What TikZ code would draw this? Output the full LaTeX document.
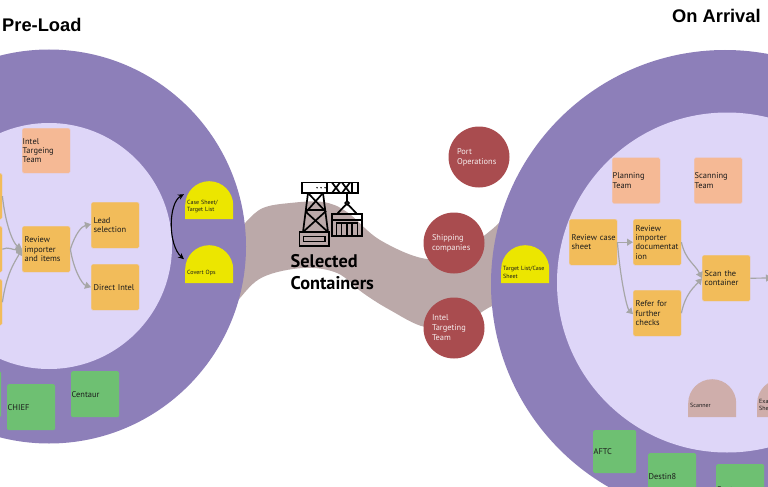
\documentclass[tikz,border=0pt]{standalone}
\usepackage{fontspec}
\setmainfont{PT Sans}
\newfontfamily\titlefont{Liberation Sans}
\usetikzlibrary{arrows.meta}
\definecolor{outerc}{HTML}{8D7FB9}
\definecolor{innerc}{HTML}{DED6F8}
\definecolor{taskc}{HTML}{F2BC5A}
\definecolor{teamc}{HTML}{F5B995}
\definecolor{toolc}{HTML}{6EC072}
\definecolor{yelc}{HTML}{ECE600}
\definecolor{scanc}{HTML}{CFAEAB}
\definecolor{redc}{HTML}{A94C4F}
\definecolor{ribc}{HTML}{BBA9A9}
\definecolor{arrc}{HTML}{A6A6A6}
\definecolor{inkc}{HTML}{1C1C1C}
\tikzset{
  sqbox/.style={anchor=north west,minimum width=48pt,minimum height=46pt,text width=43pt,
    inner xsep=2.5pt,inner ysep=0pt,align=left,rounded corners=1.5pt,font=\fontsize{8.4}{9.4}\selectfont,text=inkc},
  taskbox/.style={sqbox,fill=taskc,draw=innerc!70!taskc,line width=.4pt},
  teambox/.style={sqbox,fill=teamc,draw=innerc!70!teamc,line width=.4pt,inner xsep=.5pt,text width=47pt},
  toolbox/.style={sqbox,fill=toolc,inner xsep=.5pt,text width=47pt},
  dome/.style={anchor=north west,minimum width=48pt,minimum height=38pt,text width=44pt,inner xsep=2pt,inner ysep=0pt,
    align=left,font=\fontsize{6}{7.4}\selectfont,text=inkc,
    path picture={\fill[#1] (path picture bounding box.south west) -- ++(0,14pt) arc[start angle=180,end angle=0,radius=24pt] -- (path picture bounding box.south east) -- cycle;}},
  disc/.style={circle,fill=redc,minimum size=61pt,inner sep=0pt,text width=44pt,align=left,
    font=\fontsize{8.4}{10}\selectfont,text=white!90!redc},
  flow/.style={draw=arrc,line width=1.2pt,-{Triangle[length=6pt,width=7pt]}},
  link/.style={draw=black,line width=1.1pt,{Stealth[length=6pt,width=5.5pt]}-{Stealth[length=6pt,width=5.5pt]}},
  icon/.style={draw=black,line width=1.7pt,line join=miter}
}
\begin{document}
\begin{tikzpicture}[x=1pt,y=-1pt]
\useasboundingbox (0,0) rectangle (768,487);
\clip (0,0) rectangle (768,487);
% ribbon
\fill[ribc] plot[smooth,tension=.6] coordinates {(232,240) (246,222) (263,208) (290,203) (323,202) (347,212) (380,240) (427,259) (465,250) (485,235) (500,222) (520,200)}
  -- plot[smooth,tension=.6] coordinates {(520,295) (490,307) (460,325) (425,327) (390,310) (363,293) (337,273) (303,268) (263,277) (240,298) (225,320)} -- cycle;
% rings
\node[circle,fill=outerc,minimum size=394pt,inner sep=0pt] (lo) at (49,246.5) {};
\node[circle,fill=innerc,minimum size=246pt,inner sep=0pt] (li) at (49,246) {};
\node[circle,fill=outerc,minimum size=468pt,inner sep=0pt] (ro) at (725,284) {};
\node[circle,fill=innerc,minimum size=340pt,inner sep=0pt] (ri) at (727,282.5) {};
% titles
\node[anchor=west,inner sep=0pt,font=\titlefont\bfseries\fontsize{18.3}{20}\selectfont] (t1) at (2,25) {Pre-Load};
\node[anchor=west,inner sep=0pt,font=\titlefont\bfseries\fontsize{18.3}{20}\selectfont] (t2) at (672,15.5) {On Arrival};
% left boxes
\node[taskbox] (l1) at (-46,173) {};
\node[taskbox] (l2) at (-46,226) {};
\node[taskbox] (l3) at (-46,279) {};
\node[teambox,minimum height=45pt] (itt) at (22,128) {Intel\\Targeing\\Team};
\node[taskbox] (rev) at (22,226) {Review\\importer\\and items};
\node[taskbox] (lead) at (91,202) {Lead\\selection};
\node[taskbox] (dir) at (91,264) {Direct Intel};
\node[dome=yelc] (cs) at (185,181) {\\[9pt]Case Sheet/\\Target List};
\node[dome=yelc] (co) at (185,245) {\\[14pt]Covert Ops};
\node[toolbox] (g0) at (-47,371) {};
\node[toolbox] (chief) at (7,384) {CHIEF};
\node[toolbox] (cent) at (71,371) {Centaur};
% left connectors
\draw[flow] (l1.east) .. controls +(3,28) and +(-9,-6) .. (rev.west);
\draw[flow] (l2.east) .. controls +(6,-3) and +(-9,1) .. (rev.west);
\draw[flow] (l3.east) .. controls +(4,-28) and +(-8,14) .. (rev.west);
\draw[flow] (rev.east) .. controls +(5,-16) and +(-9,2) .. ([yshift=1pt]lead.west);
\draw[flow] (rev.east) .. controls +(3,20) and +(-9,-3) .. (dir.west);
\draw[link] ([yshift=6pt,xshift=-1pt]cs.west) .. controls +(-16,9) and +(-16,-14) .. ([yshift=5pt,xshift=-1pt]co.west);
% discs
\node[disc] (port) at (479,157) {Port\\Operations};
\node[disc] (ship) at (454,243) {Shipping\\companies};
\node[disc] (itm) at (454,328) {Intel\\Targeting\\Team};
% right boxes
\node[teambox] (plan) at (612,157.5) {Planning\\Team};
\node[teambox] (scan) at (694,157.5) {Scanning\\Team};
\node[taskbox] (rcs) at (569,219) {\makebox[0pt][l]{Review case}\\sheet};
\node[taskbox] (rid) at (633,219) {Review\\importer\\documentat\\ion};
\node[taskbox] (ref) at (633,290) {Refer for\\further\\checks};
\node[taskbox] (stc) at (702,255) {Scan the\\container};
\node[dome=yelc] (tl) at (501,245) {\\[13pt]Target List/Case\\Sheet};
\node[dome=scanc] (sc) at (688,379) {\\[12pt]Scanner};
\node[dome=scanc] (ex) at (757,379) {\\[10pt]Exa\\She};
\coordinate (offr) at (772,278);
\draw[flow] (rcs.east) -- (rid.west |- rcs.east);
\draw[flow] (rcs.east) .. controls +(3,38) and +(-6,-6) .. ([yshift=-1pt]ref.west);
\draw[flow] (rid.east) .. controls +(4,18) and +(-7,-14) .. (stc.west);
\draw[flow] (ref.east) .. controls +(4,-20) and +(-7,8) .. (stc.west);
\draw[flow] (stc.east) -- (offr);
% lower tools
\node[toolbox,minimum width=43pt,minimum height=43pt,text width=42pt] (aftc) at (593,430) {AFTC};
\node[toolbox] (dest) at (648,453) {Destin8};
\node[toolbox] (cen2) at (716,464) {\\[2pt]Centaur};
% crane icon
\begin{scope}[icon]
  \draw (302,182.5) rectangle (358,193);
  \fill (317,187.7) circle (.8) (321,187.7) circle (.8) (325,187.7) circle (.8);
  \draw (327,182.5) -- (327,193) (332,182.5) -- (340,193) (340,182.5) -- (332,193) (342,182.5) -- (350,193) (350,182.5) -- (342,193) (352,182.5) -- (352,193);
  \draw (308,193) -- (303,232) (323,193) -- (328,232);
  \draw (308,193) -- (326,212) (323,193) -- (306,212) (306,210) -- (325,210) (306,212) -- (328,232) (325,212) -- (303,232);
  \draw (299.5,232) rectangle (329,246);
  \draw (303.5,236.5) rectangle (325,241.5);
  \draw (347,193) -- (347,201);
  \draw (347,203) circle (1.8);
  \draw (346,204.5) -- (337,214) (348,204.5) -- (357,214);
  \draw (332,214) rectangle (362,236);
  \draw (332,220) -- (362,220);
  \draw (336.5,235) -- (336.5,223) -- (357.5,223) -- (357.5,235);
  \draw (341.5,223) -- (341.5,235) (347,223) -- (347,235) (352,223) -- (352,235);
\end{scope}
\node[anchor=north west,inner sep=0pt,align=left,font=\bfseries\fontsize{18.3}{22}\selectfont] (sel) at (290.5,254) {Selected\\Containers};
\end{tikzpicture}
\end{document}
